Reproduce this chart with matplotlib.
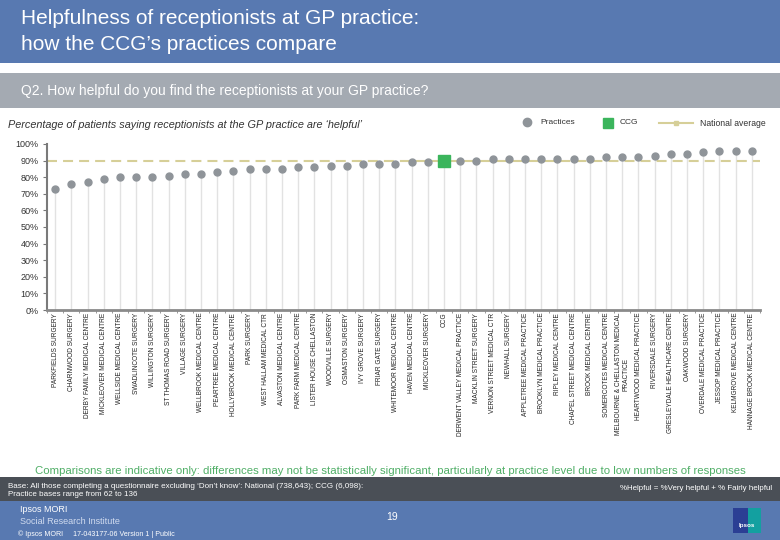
import matplotlib
matplotlib.use("Agg")
import matplotlib.pyplot as plt
from matplotlib.patches import Rectangle
from matplotlib.lines import Line2D
import numpy as np

# ---------------- data ----------------
categories = [
    "PARKFIELDS SURGERY", "CHARNWOOD SURGERY", "DERBY FAMILY MEDICAL CENTRE",
    "MICKLEOVER MEDICAL CENTRE", "WELLSIDE MEDICAL CENTRE", "SWADLINCOTE SURGERY",
    "WILLINGTON SURGERY", "ST THOMAS ROAD SURGERY", "VILLAGE SURGERY",
    "WELLBROOK MEDICAL CENTRE", "PEARTREE MEDICAL CENTRE", "HOLLYBROOK MEDICAL CENTRE",
    "PARK SURGERY", "WEST HALLAM MEDICAL CTR", "ALVASTON MEDICAL CENTRE",
    "PARK FARM MEDICAL CENTRE", "LISTER HOUSE CHELLASTON", "WOODVILLE SURGERY",
    "OSMASTON SURGERY", "IVY GROVE SURGERY", "FRIAR GATE SURGERY",
    "WHITEMOOR MEDICAL CENTRE", "HAVEN MEDICAL CENTRE", "MICKLEOVER SURGERY",
    "CCG", "DERWENT VALLEY MEDICAL PRACTICE", "MACKLIN STREET SURGERY",
    "VERNON STREET MEDICAL CTR", "NEWHALL SURGERY", "APPLETREE MEDICAL PRACTICE",
    "BROOKLYN MEDICAL PRACTICE", "RIPLEY MEDICAL CENTRE", "CHAPEL STREET MEDICAL CENTRE",
    "BROOK MEDICAL CENTRE", "SOMERCOTES MEDICAL CENTRE",
    "MELBOURNE & CHELLASTON MEDICAL\nPRACTICE", "HEARTWOOD MEDICAL PRACTICE",
    "RIVERSDALE SURGERY", "GRESLEYDALE HEALTHCARE CENTRE", "OAKWOOD SURGERY",
    "OVERDALE MEDICAL PRACTICE", "JESSOP MEDICAL PRACTICE", "KELMGROVE MEDICAL CENTRE",
    "HANNAGE BROOK MEDICAL CENTRE",
]
values = [73, 76, 77, 79, 80, 80, 80, 81, 82, 82, 83, 84, 85, 85, 85, 86, 86, 87,
          87, 88, 88, 88, 89, 89, 90, 90, 90, 91, 91, 91, 91, 91, 91, 91, 92, 92,
          92, 93, 94, 94, 95, 96, 96, 96]
ccg_label = "CCG"
national_average = 90
y_ticks = [0, 10, 20, 30, 40, 50, 60, 70, 80, 90, 100]
y_tick_labels = [f"{v}%" for v in y_ticks]

# ---------------- colours ----------------
BLUE = "#5879b1"
GREY_BAND = "#a4aab2"
DARK_BAND = "#4a4f56"
PRACTICE_C = "#8f9499"
CCG_C = "#3bb55c"
NAT_C = "#d6cf98"
GREEN_TXT = "#4fae66"

W, H = 780, 540
plt.rcParams['font.family'] = ['Liberation Sans', 'DejaVu Sans']
fig = plt.figure(figsize=(W / 100, H / 100), dpi=100)


def fx(px):
    return px / W


def fy(py):
    return 1 - py / H


def band(y0, y1, color):
    fig.add_artist(Rectangle((0, fy(y1)), 1, (y1 - y0) / H,
                             transform=fig.transFigure, color=color, zorder=0, lw=0))


# header bands
band(0, 63, BLUE)
band(73, 108, GREY_BAND)
band(477, 501, DARK_BAND)
band(501, 540, BLUE)

fig.text(fx(21), fy(18), "Helpfulness of receptionists at GP practice:",
         color="white", fontsize=15, va="center", ha="left")
fig.text(fx(21), fy(45), "how the CCG\u2019s practices compare",
         color="white", fontsize=15, va="center", ha="left")
fig.text(fx(21), fy(91), "Q2. How helpful do you find the receptionists at your GP practice?",
         color="white", fontsize=10, va="center", ha="left")
fig.text(fx(8), fy(125),
         "Percentage of patients saying receptionists at the GP practice are \u2018helpful\u2019",
         color="#333333", fontsize=7.8, style="italic", va="center", ha="left")

# legend
fig.add_artist(Line2D([fx(527)], [fy(122)], marker="o", markersize=6,
                      color=PRACTICE_C, lw=0, transform=fig.transFigure))
fig.text(fx(540), fy(123), "Practices", fontsize=6, color="#333333", va="center")
fig.add_artist(Line2D([fx(608)], [fy(123)], marker="s", markersize=7,
                      color=CCG_C, lw=0, transform=fig.transFigure))
fig.text(fx(620), fy(123), "CCG", fontsize=6, color="#333333", va="center")
fig.add_artist(Line2D([fx(659), fx(693)], [fy(123), fy(123)], color=NAT_C, lw=1.5,
                      transform=fig.transFigure))
fig.add_artist(Line2D([fx(676)], [fy(123)], marker="s", markersize=3, color=NAT_C,
                      lw=0, transform=fig.transFigure))
fig.text(fx(700), fy(123), "National average", fontsize=6.2, color="#333333", va="center")

# ---------------- chart ----------------
ax = fig.add_axes([fx(47), fy(310), (760 - 47) / W, (310 - 144) / H])
n = len(categories)
x = np.arange(n)
vals = np.array(values, dtype=float)
is_ccg = np.array([c == ccg_label for c in categories])

ax.vlines(x, 0, vals, color="#e2e2e2", lw=1, zorder=1)
ax.axhline(national_average, color=NAT_C, lw=1.5, ls=(0, (4.8, 2.9)), zorder=2)
ax.plot(x[~is_ccg], vals[~is_ccg], "o", color=PRACTICE_C, markersize=5, zorder=3)
ax.plot(x[is_ccg], vals[is_ccg], "s", color=CCG_C, markersize=8, zorder=3)

ax.set_xlim(-0.5, n - 0.5)
ax.set_ylim(0, 100)
ax.set_yticks(y_ticks)
ax.set_yticklabels(y_tick_labels)
ax.set_xticks(x)
ax.set_xticklabels(categories, rotation=90, fontsize=4.7, color="#222222",
                   ha="center", va="top", multialignment="center")
ax.set_xticks(np.arange(n + 1) - 0.5, minor=True)
ax.tick_params(axis="x", which="major", length=0, pad=2)
ax.tick_params(axis="x", which="minor", length=2.5, color="#888888", direction="out")
ax.tick_params(axis="y", length=3, color="#777777", labelsize=6.5,
               labelcolor="#333333", pad=3)
for s in ["top", "right"]:
    ax.spines[s].set_visible(False)
ax.spines["left"].set_color("#7a7a7a")
ax.spines["left"].set_linewidth(1.5)
ax.spines["bottom"].set_color("#8a8a8a")
ax.spines["bottom"].set_linewidth(2)

# ---------------- footer ----------------
fig.text(0.5, fy(471),
         "Comparisons are indicative only: differences may not be statistically significant, "
         "particularly at practice level due to low numbers of responses",
         color=GREEN_TXT, fontsize=8.2, ha="center", va="center")
fig.text(fx(8), fy(487),
         "Base: All those completing a questionnaire excluding \u2018Don\u2019t know\u2019: "
         "National (738,643); CCG (6,098):",
         color="white", fontsize=5.8, va="center")
fig.text(fx(8), fy(495), "Practice bases range from 62 to 136",
         color="white", fontsize=5.8, va="center")
fig.text(fx(772), fy(489), "%Helpful = %Very helpful + % Fairly helpful",
         color="white", fontsize=5.7, va="center", ha="right")

fig.text(fx(20), fy(510), "Ipsos MORI", color="white", fontsize=6.5, va="center")
fig.text(fx(20), fy(522), "Social Research Institute", color="#d0dbef",
         fontsize=6.5, va="center")
fig.text(fx(18), fy(534), "\u00a9 Ipsos MORI     17-043177-06 Version 1 | Public",
         color="white", fontsize=5.1, va="center")
fig.text(fx(392), fy(517), "19", color="white", fontsize=7.5, va="center", ha="center")

# logo
fig.add_artist(Rectangle((fx(733), fy(533)), 28 / W, 25 / H, transform=fig.transFigure,
                         color="#2b3f94", lw=0, zorder=2))
fig.add_artist(Rectangle((fx(748), fy(533)), 13 / W, 25 / H, transform=fig.transFigure,
                         color="#13a0a0", lw=0, zorder=2))
fig.text(fx(747), fy(525), "Ipsos", color="white", fontsize=4.5, fontweight="bold",
         ha="center", va="center", zorder=3)

fig.savefig("out.png", dpi=100)
